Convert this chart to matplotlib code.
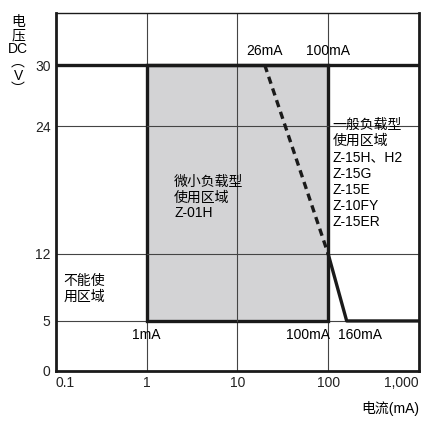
import numpy as np
import matplotlib
matplotlib.use("Agg")
import matplotlib.pyplot as plt
from matplotlib.patches import Rectangle

plt.rcParams['font.family'] = ['Liberation Sans', 'Noto Sans CJK SC', 'DejaVu Sans']

# axis ticks
x_ticks = [0.1, 1, 10, 100, 1000]
x_ticklabels = ["0.1", "1", "10", "100", "1,000"]
y_ticks = [0, 5, 12, 24, 30]

# y axis is drawn unevenly in the original chart
y_knots = [0, 5, 12, 24, 30, 35]
y_pos = [0, 50, 117, 245, 306, 358]

# regions
micro_i = [1, 100]      # mA
micro_v = [5, 30]       # V
limit_dash_i = [20, 100]
limit_dash_v = [30, 12]
limit_solid_i = [100, 160, 1000]
limit_solid_v = [12, 5, 5]

fig = plt.figure(figsize=(4.21, 4.22), dpi=100)
ax = fig.add_axes([0.133, 0.121, 0.862, 0.848])

fwd = lambda y: np.interp(y, y_knots, y_pos)
inv = lambda p: np.interp(p, y_pos, y_knots)
ax.set_xscale("log")
ax.set_yscale("function", functions=(fwd, inv))
ax.set_xlim(0.1, 1000)
ax.set_ylim(0, 35)

ax.set_xticks(x_ticks)
ax.set_xticklabels(x_ticklabels)
ax.set_yticks(y_ticks)
ax.minorticks_off()
ax.tick_params(length=0, labelsize=10, pad=4, colors="#222222")
xl = ax.get_xticklabels()
xl[0].set_ha("left")
xl[-1].set_ha("right")

# thin grid
for x in [1, 10, 100]:
    ax.axvline(x, color="#444444", lw=0.8, zorder=1)
for y in [5, 12, 24]:
    ax.axhline(y, color="#444444", lw=0.8, zorder=1)

# shaded micro-load area
rect = Rectangle((micro_i[0], micro_v[0]), micro_i[1] - micro_i[0], micro_v[1] - micro_v[0],
                 facecolor="#d3d3d5", edgecolor="#1a1a1a", lw=2.4, zorder=2)
ax.add_patch(rect)
for y in [12, 24]:
    ax.plot(micro_i, [y, y], color="#444444", lw=0.8, zorder=2.5)
ax.plot([10, 10], micro_v, color="#444444", lw=0.8, zorder=2.5)

ax.axhline(30, color="#1a1a1a", lw=2.4, zorder=3)
ax.plot(limit_dash_i, limit_dash_v, color="#1a1a1a", lw=2.4, ls=(0, (2.2, 1.5)), zorder=4)
ax.plot(limit_solid_i, limit_solid_v, color="#1a1a1a", lw=2.4, zorder=4)

for s in ["left", "bottom", "right"]:
    ax.spines[s].set_linewidth(2)
ax.spines["top"].set_linewidth(1)
for s in ax.spines.values():
    s.set_color("#1a1a1a")

fs = 10
ax.text(20, 30.7, "26mA", ha="center", va="bottom", fontsize=fs)
ax.text(100, 30.7, "100mA", ha="center", va="bottom", fontsize=fs)
ax.text(1, 4.3, "1mA", ha="center", va="top", fontsize=fs)
ax.text(104, 4.3, "100mA", ha="right", va="top", fontsize=fs)
ax.text(128, 4.3, "160mA", ha="left", va="top", fontsize=fs)

ax.text(2.0, 19.4, "微小负载型\n使用区域\nZ-01H", ha="left", va="top", fontsize=fs,
        linespacing=1.15, zorder=5)
ax.text(0.12, 9.9, "不能使\n用区域", ha="left", va="top", fontsize=fs,
        linespacing=1.2, zorder=5)
ax.text(112, 24.8, "一般负载型\n使用区域\nZ-15H、H2\nZ-15G\nZ-15E\nZ-10FY\nZ-15ER",
        ha="left", va="top", fontsize=fs, linespacing=1.2, zorder=5)

fig.text(0.043, 0.965, "电\n压\nDC\n︵\nV\n︶", ha="center", va="top", fontsize=fs,
         linespacing=0.95)
fig.text(0.995, 0.015, "电流(mA)", ha="right", va="bottom", fontsize=fs)

fig.savefig("out.png", dpi=100)
